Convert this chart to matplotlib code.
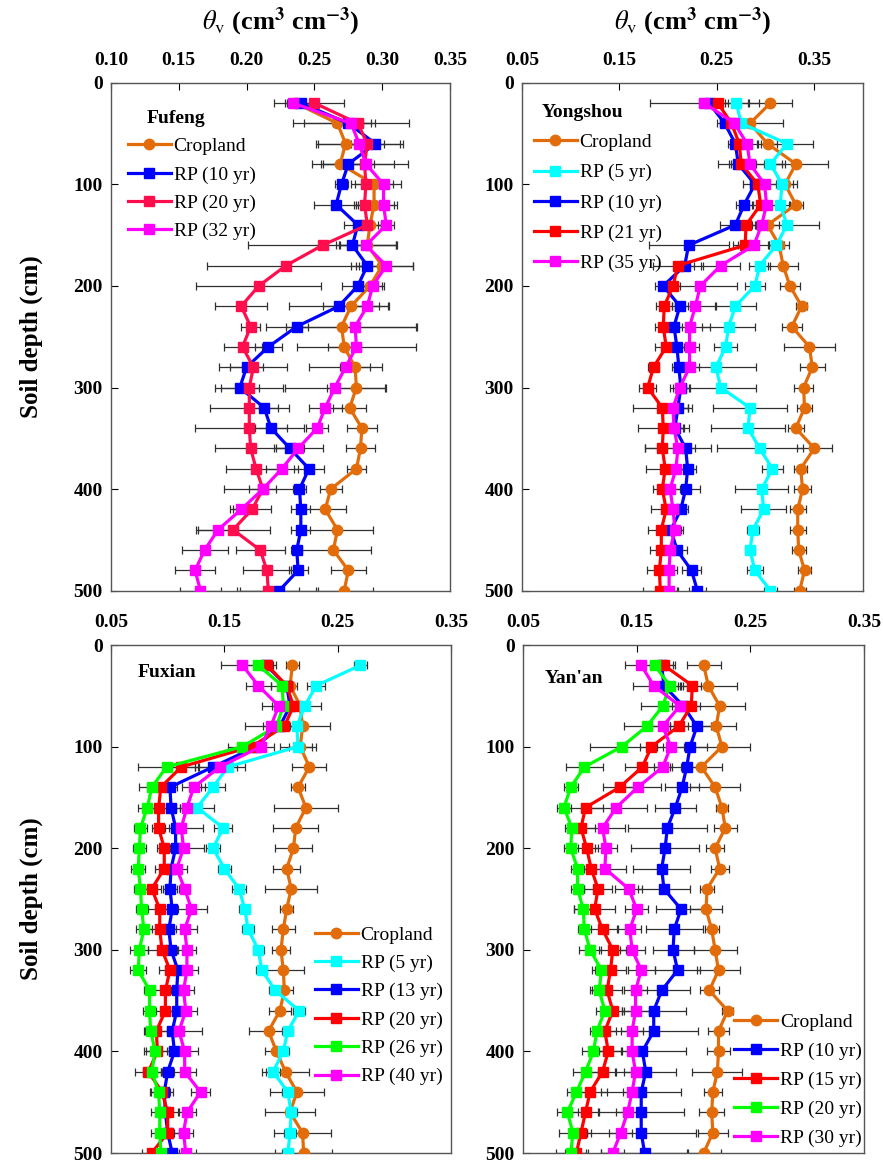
import matplotlib
matplotlib.use("Agg")
import matplotlib.pyplot as plt

plt.rcParams['font.family'] = ['Liberation Serif', 'DejaVu Serif']
plt.rcParams['mathtext.fontset'] = 'stix'

depth = list(range(20, 520, 20))

# Fufeng
crop_f = [0.236, 0.267, 0.273, 0.269, 0.294, 0.294, 0.291, 0.289, 0.300, 0.291, 0.277, 0.270, 0.272,
          0.280, 0.281, 0.276, 0.285, 0.284, 0.281, 0.262, 0.258, 0.267, 0.264, 0.275, 0.272]
rp10_f = [0.240, 0.275, 0.295, 0.275, 0.270, 0.266, 0.282, 0.278, 0.289, 0.282, 0.268, 0.237, 0.216,
          0.200, 0.195, 0.213, 0.218, 0.232, 0.246, 0.239, 0.240, 0.240, 0.237, 0.238, 0.224]
rp20_f = [0.250, 0.282, 0.289, 0.287, 0.288, 0.287, 0.289, 0.256, 0.229, 0.209, 0.196, 0.203, 0.197,
          0.205, 0.202, 0.202, 0.202, 0.203, 0.207, 0.212, 0.204, 0.190, 0.210, 0.215, 0.216]
rp32_f = [0.234, 0.277, 0.283, 0.288, 0.301, 0.301, 0.303, 0.288, 0.303, 0.293, 0.289, 0.280, 0.281,
          0.273, 0.265, 0.258, 0.252, 0.238, 0.226, 0.212, 0.196, 0.179, 0.169, 0.162, 0.166]
sd_crop_f = [0.005, 0.025, 0.022, 0.021, 0.014, 0.015, 0.008, 0.021, 0.023, 0.010, 0.021, 0.056, 0.012,
             0.011, 0.022, 0.012, 0.011, 0.011, 0.007, 0.008, 0.015, 0.026, 0.028, 0.013, 0.021]
sd_rp10_f = [0.010, 0.011, 0.020, 0.019, 0.005, 0.016, 0.010, 0.009, 0.008, 0.012, 0.037, 0.008, 0.010,
             0.012, 0.014, 0.010, 0.012, 0.010, 0.011, 0.005, 0.007, 0.007, 0.004, 0.007, 0.029]
sd_rp20_f = [0.022, 0.013, 0.012, 0.032, 0.011, 0.006, 0.010, 0.055, 0.058, 0.046, 0.019, 0.007, 0.014,
             0.025, 0.025, 0.029, 0.040, 0.026, 0.022, 0.029, 0.014, 0.027, 0.018, 0.018, 0.023]
sd_rp32_f = [0.014, 0.043, 0.030, 0.021, 0.013, 0.010, 0.006, 0.022, 0.020, 0.007, 0.015, 0.045, 0.044,
             0.027, 0.037, 0.012, 0.008, 0.018, 0.012, 0.010, 0.008, 0.015, 0.017, 0.015, 0.015]

# Yongshou
crop_y = [0.305, 0.284, 0.302, 0.331, 0.320, 0.331, 0.302, 0.314, 0.318, 0.325, 0.337, 0.327, 0.345,
          0.348, 0.339, 0.340, 0.331, 0.350, 0.336, 0.338, 0.333, 0.333, 0.334, 0.340, 0.335]
rp5_y = [0.270, 0.275, 0.322, 0.305, 0.317, 0.315, 0.322, 0.311, 0.294, 0.289, 0.269, 0.262, 0.259,
         0.249, 0.254, 0.284, 0.282, 0.294, 0.307, 0.296, 0.298, 0.287, 0.284, 0.289, 0.305]
rp10_y = [0.242, 0.258, 0.269, 0.272, 0.289, 0.278, 0.269, 0.221, 0.217, 0.195, 0.212, 0.206, 0.209,
          0.211, 0.213, 0.210, 0.207, 0.218, 0.220, 0.218, 0.213, 0.203, 0.209, 0.224, 0.230]
rp21_y = [0.251, 0.265, 0.273, 0.275, 0.292, 0.295, 0.280, 0.279, 0.210, 0.205, 0.196, 0.195, 0.198,
          0.185, 0.179, 0.194, 0.195, 0.194, 0.197, 0.194, 0.198, 0.193, 0.193, 0.191, 0.192]
rp35_y = [0.237, 0.268, 0.281, 0.284, 0.299, 0.301, 0.296, 0.288, 0.254, 0.233, 0.228, 0.222, 0.222,
          0.222, 0.212, 0.205, 0.206, 0.210, 0.208, 0.202, 0.205, 0.207, 0.202, 0.201, 0.201]
sd_crop_y = [0.022, 0.034, 0.010, 0.033, 0.008, 0.007, 0.012, 0.010, 0.015, 0.010, 0.006, 0.010, 0.026,
             0.013, 0.010, 0.008, 0.008, 0.018, 0.007, 0.009, 0.008, 0.008, 0.007, 0.007, 0.006]
sd_rp5_y = [0.012, 0.008, 0.027, 0.015, 0.015, 0.010, 0.033, 0.008, 0.011, 0.010, 0.021, 0.027, 0.012,
            0.041, 0.036, 0.038, 0.038, 0.044, 0.011, 0.027, 0.023, 0.006, 0.005, 0.008, 0.007]
sd_rp10_y = [0.010, 0.005, 0.008, 0.010, 0.012, 0.008, 0.016, 0.041, 0.010, 0.008, 0.008, 0.008, 0.007,
             0.007, 0.008, 0.010, 0.008, 0.010, 0.009, 0.015, 0.007, 0.010, 0.010, 0.010, 0.009]
sd_rp21_y = [0.010, 0.008, 0.008, 0.010, 0.008, 0.008, 0.010, 0.012, 0.026, 0.007, 0.008, 0.008, 0.012,
             0.006, 0.009, 0.030, 0.026, 0.018, 0.020, 0.010, 0.016, 0.014, 0.012, 0.013, 0.018]
sd_rp35_y = [0.056, 0.008, 0.010, 0.033, 0.012, 0.010, 0.010, 0.016, 0.020, 0.038, 0.021, 0.021, 0.010,
             0.010, 0.010, 0.015, 0.010, 0.034, 0.010, 0.010, 0.010, 0.008, 0.008, 0.008, 0.008]

# Fuxian
crop_fx = [0.210, 0.208, 0.217, 0.219, 0.217, 0.225, 0.215, 0.222, 0.213, 0.211, 0.205, 0.209, 0.205,
           0.202, 0.200, 0.202, 0.203, 0.199, 0.189, 0.196, 0.204, 0.214, 0.208, 0.219, 0.220]
rp5_fx = [0.270, 0.231, 0.221, 0.214, 0.215, 0.153, 0.140, 0.126, 0.149, 0.140, 0.150, 0.163, 0.168,
          0.171, 0.180, 0.183, 0.195, 0.216, 0.206, 0.202, 0.193, 0.206, 0.209, 0.208, 0.206]
rp13_fx = [0.187, 0.205, 0.208, 0.199, 0.178, 0.140, 0.102, 0.103, 0.107, 0.107, 0.103, 0.102, 0.104,
           0.101, 0.103, 0.109, 0.108, 0.108, 0.104, 0.106, 0.100, 0.097, 0.098, 0.100, 0.104]
rp20_fx = [0.188, 0.205, 0.211, 0.203, 0.174, 0.112, 0.094, 0.092, 0.092, 0.097, 0.097, 0.086, 0.093,
           0.093, 0.095, 0.102, 0.098, 0.098, 0.090, 0.091, 0.083, 0.095, 0.100, 0.100, 0.086]
rp26_fx = [0.180, 0.201, 0.202, 0.196, 0.166, 0.099, 0.086, 0.082, 0.076, 0.075, 0.074, 0.076, 0.077,
           0.079, 0.075, 0.074, 0.084, 0.084, 0.085, 0.089, 0.086, 0.092, 0.093, 0.093, 0.094]
rp40_fx = [0.166, 0.180, 0.198, 0.191, 0.182, 0.146, 0.123, 0.117, 0.112, 0.114, 0.108, 0.115, 0.121,
           0.115, 0.117, 0.117, 0.114, 0.116, 0.110, 0.115, 0.115, 0.129, 0.117, 0.114, 0.116]
sd_crop_fx = [0.006, 0.006, 0.008, 0.024, 0.010, 0.015, 0.006, 0.028, 0.020, 0.016, 0.012, 0.023, 0.006,
              0.010, 0.008, 0.018, 0.008, 0.010, 0.017, 0.010, 0.021, 0.024, 0.022, 0.025, 0.025]
sd_rp5_fx = [0.006, 0.008, 0.014, 0.008, 0.016, 0.008, 0.011, 0.015, 0.008, 0.006, 0.006, 0.006, 0.005,
             0.005, 0.005, 0.005, 0.006, 0.005, 0.005, 0.005, 0.006, 0.005, 0.005, 0.005, 0.005]
sd_rp13_fx = [0.006, 0.005, 0.005, 0.008, 0.008, 0.012, 0.006, 0.008, 0.006, 0.005, 0.005, 0.006, 0.005,
              0.006, 0.005, 0.005, 0.005, 0.006, 0.005, 0.005, 0.006, 0.005, 0.005, 0.005, 0.006]
sd_rp20_fx = [0.008, 0.005, 0.008, 0.010, 0.010, 0.015, 0.008, 0.004, 0.006, 0.006, 0.008, 0.008, 0.010,
              0.012, 0.012, 0.010, 0.012, 0.010, 0.010, 0.010, 0.012, 0.010, 0.010, 0.010, 0.009]
sd_rp26_fx = [0.012, 0.010, 0.010, 0.012, 0.013, 0.025, 0.011, 0.008, 0.006, 0.006, 0.006, 0.006, 0.005,
              0.007, 0.008, 0.007, 0.005, 0.006, 0.006, 0.010, 0.008, 0.008, 0.008, 0.008, 0.010]
sd_rp40_fx = [0.019, 0.011, 0.015, 0.023, 0.012, 0.022, 0.010, 0.010, 0.019, 0.018, 0.009, 0.005, 0.014,
              0.011, 0.008, 0.010, 0.009, 0.010, 0.020, 0.012, 0.010, 0.008, 0.008, 0.008, 0.009]

# Yan'an
crop_ya = [0.209, 0.213, 0.223, 0.220, 0.225, 0.207, 0.219, 0.225, 0.228, 0.219, 0.223, 0.212, 0.211,
           0.216, 0.219, 0.222, 0.214, 0.230, 0.222, 0.222, 0.221, 0.217, 0.216, 0.217, 0.209]
rp10_ya = [0.172, 0.174, 0.191, 0.203, 0.197, 0.194, 0.190, 0.184, 0.177, 0.175, 0.172, 0.174, 0.189,
           0.183, 0.182, 0.186, 0.172, 0.165, 0.165, 0.155, 0.158, 0.154, 0.154, 0.154, 0.157]
rp15_ya = [0.174, 0.199, 0.198, 0.187, 0.163, 0.155, 0.135, 0.105, 0.101, 0.106, 0.110, 0.116, 0.113,
           0.120, 0.129, 0.127, 0.124, 0.129, 0.122, 0.125, 0.120, 0.109, 0.105, 0.101, 0.097]
rp20_ya = [0.166, 0.179, 0.173, 0.159, 0.137, 0.104, 0.092, 0.086, 0.093, 0.092, 0.098, 0.098, 0.103,
           0.104, 0.109, 0.119, 0.117, 0.122, 0.115, 0.112, 0.105, 0.097, 0.089, 0.094, 0.092]
rp30_ya = [0.154, 0.165, 0.188, 0.173, 0.180, 0.173, 0.151, 0.132, 0.120, 0.123, 0.122, 0.143, 0.150,
           0.144, 0.146, 0.154, 0.149, 0.149, 0.146, 0.146, 0.149, 0.146, 0.142, 0.136, 0.129]
sd_crop_ya = [0.015, 0.025, 0.022, 0.017, 0.025, 0.018, 0.022, 0.005, 0.010, 0.008, 0.008, 0.006, 0.014,
              0.006, 0.019, 0.019, 0.008, 0.005, 0.009, 0.010, 0.022, 0.008, 0.011, 0.013, 0.015]
sd_rp10_ya = [0.010, 0.012, 0.010, 0.012, 0.015, 0.015, 0.015, 0.018, 0.035, 0.030, 0.025, 0.023, 0.022,
              0.025, 0.018, 0.020, 0.025, 0.028, 0.039, 0.038, 0.027, 0.035, 0.038, 0.048, 0.038]
sd_rp15_ya = [0.010, 0.008, 0.008, 0.008, 0.010, 0.015, 0.015, 0.015, 0.012, 0.010, 0.012, 0.012, 0.018,
              0.013, 0.012, 0.014, 0.013, 0.010, 0.010, 0.012, 0.012, 0.015, 0.012, 0.009, 0.010]
sd_rp20_ya = [0.010, 0.010, 0.019, 0.020, 0.028, 0.016, 0.006, 0.006, 0.006, 0.006, 0.006, 0.006, 0.008,
              0.006, 0.010, 0.008, 0.008, 0.008, 0.006, 0.010, 0.011, 0.008, 0.009, 0.012, 0.013]
sd_rp30_ya = [0.014, 0.018, 0.012, 0.010, 0.012, 0.008, 0.020, 0.027, 0.020, 0.010, 0.019, 0.012, 0.010,
              0.010, 0.011, 0.012, 0.010, 0.012, 0.010, 0.010, 0.010, 0.008, 0.010, 0.010, 0.010]

ORANGE = '#e36c0a'
BLUE = '#0000ff'
RED = '#ff0000'
CRIMSON = '#ff0d4d'
MAGENTA = '#ff00ff'
CYAN = '#00ffff'
GREEN = '#00ff00'

W, H = 883, 1164
fig = plt.figure(figsize=(W / 100, H / 100), dpi=100)


def make_axes(x0, x1, y0, y1):
    # pixel box -> figure fraction
    return fig.add_axes([x0 / W, 1 - y1 / H, (x1 - x0) / W, (y1 - y0) / H])


def draw_panel(ax, name, name_pos, series, xlim, xticks, leg_anchor, leg_space):
    handles = []
    for vals, sd, color, marker, label in series:
        ax.errorbar(vals, depth, xerr=sd, fmt='none', ecolor='#303030',
                    elinewidth=0.9, capsize=2.8, capthick=0.9, zorder=1)
    for vals, sd, color, marker, label in series:
        ms = 7.5 if marker == 'o' else 7.0
        h, = ax.plot(vals, depth, color=color, marker=marker, markersize=ms,
                     linewidth=2.3, label=label, zorder=3)
        handles.append(h)
    ax.set_xlim(*xlim)
    ax.set_ylim(500, 0)
    ax.set_xticks(xticks)
    ax.set_xticklabels(['%.2f' % t for t in xticks])
    ax.set_yticks([0, 100, 200, 300, 400, 500])
    ax.xaxis.tick_top()
    ax.tick_params(axis='x', direction='in', length=5, width=0.8, pad=10,
                   labelsize=14, top=True, bottom=False)
    ax.tick_params(axis='y', direction='in', length=5, width=0.8, pad=6,
                   labelsize=14, right=False)
    for lab in ax.get_xticklabels() + ax.get_yticklabels():
        lab.set_fontweight('bold')
    for sp in ax.spines.values():
        sp.set_color('#555555')
        sp.set_linewidth(1.0)
    ax.text(name_pos[0], name_pos[1], name, transform=ax.transAxes,
            fontsize=14, fontweight='bold', va='center', ha='left')
    ax.legend(handles=handles, loc='upper left', bbox_to_anchor=leg_anchor,
              frameon=False, fontsize=14, numpoints=1, handlelength=2.2,
              handletextpad=0.15, labelspacing=leg_space, borderpad=0,
              borderaxespad=0)


ax1 = make_axes(111, 450, 82.7, 590.7)
draw_panel(ax1, 'Fufeng', (0.105, 0.930),
           [(crop_f, sd_crop_f, ORANGE, 'o', 'Cropland'),
            (rp10_f, sd_rp10_f, BLUE, 's', 'RP (10 yr)'),
            (rp20_f, sd_rp20_f, CRIMSON, 's', 'RP (20 yr)'),
            (rp32_f, sd_rp32_f, MAGENTA, 's', 'RP (32 yr)')],
           (0.10, 0.35), [0.10, 0.15, 0.20, 0.25, 0.30, 0.35],
           (0.05, 0.892), 0.55)

ax2 = make_axes(522, 863, 82.7, 590.7)
draw_panel(ax2, 'Yongshou', (0.058, 0.942),
           [(crop_y, sd_crop_y, ORANGE, 'o', 'Cropland'),
            (rp5_y, sd_rp5_y, CYAN, 's', 'RP (5 yr)'),
            (rp10_y, sd_rp10_y, BLUE, 's', 'RP (10 yr)'),
            (rp21_y, sd_rp21_y, RED, 's', 'RP (21 yr)'),
            (rp35_y, sd_rp35_y, MAGENTA, 's', 'RP (35 yr)')],
           (0.05, 0.40), [0.05, 0.15, 0.25, 0.35],
           (0.035, 0.90), 0.65)

ax3 = make_axes(111, 451, 645, 1153)
draw_panel(ax3, 'Fuxian', (0.078, 0.945),
           [(crop_fx, sd_crop_fx, ORANGE, 'o', 'Cropland'),
            (rp5_fx, sd_rp5_fx, CYAN, 's', 'RP (5 yr)'),
            (rp13_fx, sd_rp13_fx, BLUE, 's', 'RP (13 yr)'),
            (rp20_fx, sd_rp20_fx, RED, 's', 'RP (20 yr)'),
            (rp26_fx, sd_rp26_fx, GREEN, 's', 'RP (26 yr)'),
            (rp40_fx, sd_rp40_fx, MAGENTA, 's', 'RP (40 yr)')],
           (0.05, 0.35), [0.05, 0.15, 0.25, 0.35],
           (0.60, 0.447), 0.55)

ax4 = make_axes(523, 864, 645, 1153)
draw_panel(ax4, "Yan'an", (0.065, 0.935),
           [(crop_ya, sd_crop_ya, ORANGE, 'o', 'Cropland'),
            (rp10_ya, sd_rp10_ya, BLUE, 's', 'RP (10 yr)'),
            (rp15_ya, sd_rp15_ya, RED, 's', 'RP (15 yr)'),
            (rp20_ya, sd_rp20_ya, GREEN, 's', 'RP (20 yr)'),
            (rp30_ya, sd_rp30_ya, MAGENTA, 's', 'RP (30 yr)')],
           (0.05, 0.35), [0.05, 0.15, 0.25, 0.35],
           (0.62, 0.275), 0.58)

xlab = r'$\theta_{\mathrm{v}}$ (cm$^{\mathbf{3}}$ cm$^{\mathbf{-3}}$)'
for ax in (ax1, ax2):
    ax.set_xlabel(xlab, fontsize=19, fontweight='bold', labelpad=16)
    ax.xaxis.set_label_position('top')
for ax in (ax1, ax3):
    ax.set_ylabel('Soil depth (cm)', fontsize=18, fontweight='bold', labelpad=22)

fig.savefig('out.png', dpi=100)
